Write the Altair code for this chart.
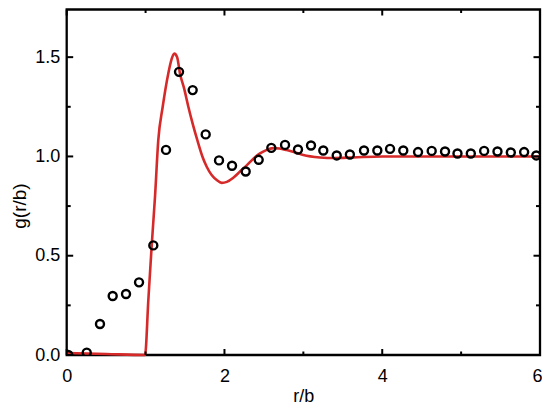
import altair as alt
import pandas as pd

# Simulation / experiment points (open circles)
pts_x = [0.02, 0.254, 0.422, 0.583, 0.752, 0.917, 1.098, 1.259, 1.424, 1.597,
         1.762, 1.931, 2.096, 2.269, 2.434, 2.594, 2.768, 2.932, 3.097, 3.253,
         3.423, 3.590, 3.769, 3.938, 4.099, 4.267, 4.454, 4.627, 4.796, 4.954,
         5.123, 5.292, 5.461, 5.630, 5.799, 5.953]
pts_y = [0.0, 0.012, 0.156, 0.297, 0.307, 0.366, 0.552, 1.033, 1.426, 1.334,
         1.111, 0.980, 0.953, 0.924, 0.983, 1.043, 1.058, 1.035, 1.055, 1.030,
         1.005, 1.010, 1.030, 1.030, 1.038, 1.030, 1.022, 1.028, 1.025, 1.015,
         1.015, 1.028, 1.025, 1.020, 1.022, 1.005]

# Theory curve (red line)
line_x = [0.0, 0.5, 0.993, 1.035, 1.078, 1.12, 1.161, 1.217, 1.288, 1.33,
          1.364, 1.40, 1.436, 1.49, 1.542, 1.60, 1.656, 1.72, 1.775, 1.84,
          1.902, 1.965, 2.03, 2.112, 2.2, 2.282, 2.37, 2.451, 2.53, 2.62,
          2.70, 2.789, 2.9, 3.0, 3.21, 3.4, 3.63, 4.0, 4.5, 5.0, 5.5, 6.0]
line_y = [0.01, 0.005, 0.0, 0.277, 0.554, 0.80, 1.082, 1.25, 1.418, 1.49,
          1.518, 1.50, 1.418, 1.34, 1.25, 1.16, 1.082, 1.00, 0.948, 0.905,
          0.881, 0.867, 0.872, 0.893, 0.925, 0.955, 0.99, 1.015, 1.032, 1.042,
          1.040, 1.032, 1.02, 1.007, 0.995, 0.992, 0.995, 1.0, 1.0, 1.0, 1.0, 1.0]

x_major = [0, 2, 4, 6]
x_minor = [1, 3, 5]
y_major = [0.0, 0.5, 1.0, 1.5]
y_minor = [0.25, 0.75, 1.25]

W = 473.3
H = 345.5
FONT = "Liberation Sans"

xs = alt.Scale(domain=[0, 6], nice=False, zero=False)
ys = alt.Scale(domain=[0, 1.74], nice=False, zero=False)

pts = pd.DataFrame({"x": pts_x, "y": pts_y})
ln = pd.DataFrame({"x": line_x, "y": line_y})

line = alt.Chart(ln).mark_line(color="#d62a2a", strokeWidth=2.6, interpolate="monotone").encode(
    x=alt.X("x:Q", scale=xs, title="r/b",
            axis=alt.Axis(values=x_major, format="d", grid=False, domain=False, ticks=False,
                          tickSize=0, labelPadding=12, labelFontSize=18, labelFont=FONT,
                          labelFlush=False, labelColor="black",
                          labelOffset={"condition": {"test": "datum.value == 6", "value": -3},
                                       "value": 0},
                          titleFontSize=18,
                          titleFont=FONT, titleFontWeight="normal", titleColor="black",
                          titleY=32, titleBaseline="top")),
    y=alt.Y("y:Q", scale=ys, title="g(r/b)",
            axis=alt.Axis(values=y_major, format=".1f", grid=False, domain=False, ticks=False,
                          tickSize=0, labelPadding=7, labelFontSize=18, labelFont=FONT,
                          labelFlush=False, labelColor="black", titleFontSize=19,
                          titleFont=FONT, titleFontWeight="normal", titleColor="black",
                          titleX=-37, titleY=196)),
)

points = alt.Chart(pts).mark_point(shape="circle", filled=False, size=64, strokeWidth=2.4,
                                   color="black", opacity=1, clip=True).encode(
    x=alt.X("x:Q", scale=xs), y=alt.Y("y:Q", scale=ys))


def xticks(vals, length):
    d = pd.DataFrame({"t": vals})
    bottom = alt.Chart(d).mark_rule(color="black", strokeWidth=2).encode(
        x=alt.X("t:Q", scale=xs), y=alt.value(H), y2=alt.value(H - length))
    top = alt.Chart(d).mark_rule(color="black", strokeWidth=2).encode(
        x=alt.X("t:Q", scale=xs), y=alt.value(0), y2=alt.value(length))
    return [bottom, top]


def yticks(vals, length):
    d = pd.DataFrame({"t": vals})
    left = alt.Chart(d).mark_rule(color="black", strokeWidth=2).encode(
        y=alt.Y("t:Q", scale=ys), x=alt.value(0), x2=alt.value(length))
    right = alt.Chart(d).mark_rule(color="black", strokeWidth=2).encode(
        y=alt.Y("t:Q", scale=ys), x=alt.value(W), x2=alt.value(W - length))
    return [left, right]


layers = [line, points] + xticks(x_major, 6) + xticks(x_minor, 3.5) + yticks(y_major, 6.5) + yticks(y_minor, 4)

chart = alt.layer(*layers).properties(
    width=W, height=H,
    background="white",
    autosize=alt.AutoSizeParams(type="none"),
    padding={"left": 58.7, "top": 1.5, "right": 2, "bottom": 51},
).configure_view(stroke="black", strokeWidth=2.3, strokeOpacity=1)

chart.save("out.html", embed_options={"renderer": "svg", "actions": False})
